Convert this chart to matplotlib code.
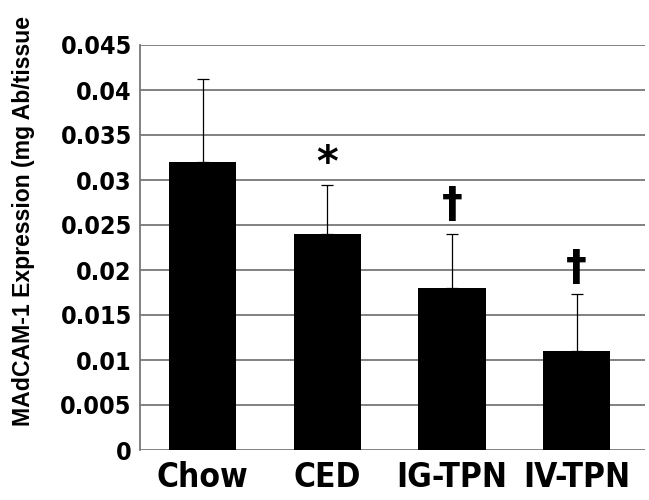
import numpy as np
import matplotlib.pyplot as plt
from matplotlib import font_manager

groups = ['Chow', 'CED', 'IG-TPN', 'IV-TPN']
means = [0.032, 0.024, 0.018, 0.011]
errors = [0.0092, 0.0055, 0.006, 0.0063]
marks = ['', '*', '\u2020', '\u2020']
mark_y = [None, 0.0318, 0.0272, 0.0202]

# narrow bold face, as in the original figure
cond = [f for f in font_manager.fontManager.ttflist
        if 'Condensed' in f.fname and 'Bold' in f.fname and 'Oblique' not in f.fname]
if cond:
    narrow = font_manager.FontProperties(fname=cond[0].fname)
else:
    narrow = font_manager.FontProperties(family='Liberation Sans', weight='bold')

fig = plt.figure(figsize=(6.49, 5.0), dpi=100)
ax = fig.add_axes([0.216, 0.1, 0.778, 0.81])

x = np.arange(len(groups))
ax.bar(x, means, width=0.54, color='black', zorder=3)
ax.errorbar(x, means, yerr=[np.zeros(len(errors)), errors], fmt='none',
            ecolor='black', elinewidth=0.9, capsize=4, capthick=0.9, zorder=4)

for xi, m, my in zip(x, marks, mark_y):
    if m:
        ax.text(xi, my, m, ha='center', va='center', fontsize=30,
                fontweight='bold', family='DejaVu Sans')

ax.set_ylim(0, 0.045)
ax.set_xlim(-0.5, 3.55)
ticks = np.arange(0, 0.0451, 0.005)
ax.set_yticks(ticks)
ax.set_yticklabels(['0' if t == 0 else f'{t:.3f}'.rstrip('0') for t in ticks])
for lab in ax.get_yticklabels():
    lab.set_fontproperties(narrow)
    lab.set_fontsize(18)
ax.set_xticks(x)
ax.set_xticklabels(groups)
for lab in ax.get_xticklabels():
    lab.set_fontproperties(narrow)
    lab.set_fontsize(24)
ax.tick_params(axis='y', length=0, pad=6)
ax.tick_params(axis='x', length=0, pad=8)
ax.yaxis.grid(True, color='#777777', linewidth=1.3, zorder=0)
for s in ['top', 'right', 'bottom']:
    ax.spines[s].set_visible(False)
ax.spines['left'].set_color('#777777')
ax.spines['left'].set_linewidth(1.3)

fig.text(0.036, 0.148, 'MAdCAM-1 Expression (mg Ab/tissue', rotation=90,
         ha='center', va='bottom', fontsize=16.6, fontweight='bold',
         family='Liberation Sans')

fig.savefig('out.png', dpi=100)
